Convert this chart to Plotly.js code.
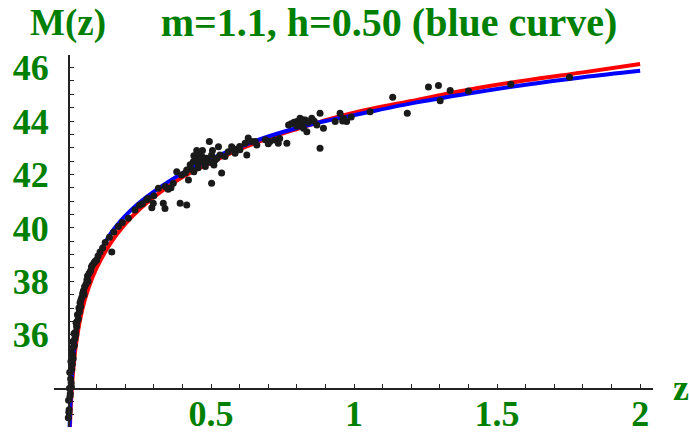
<!DOCTYPE html>
<html>
<head>
<meta charset="utf-8">
<script src="https://cdn.plot.ly/plotly-3.0.1.min.js"></script>
<style>html,body{margin:0;padding:0;background:#fff;}#chart{width:689px;height:437px;}</style>
</head>
<body>
<div id="chart"></div>
<script>
// Curves
const curveZ   = [0.005, 0.01, 0.02, 0.03, 0.05, 0.07, 0.1, 0.15, 0.2, 0.25, 0.3, 0.4, 0.5, 0.6, 0.7, 0.8, 0.9, 1.0, 1.2, 1.4, 1.6, 1.8, 2.0];
const redM     = [31.9, 33.4, 34.9, 35.8, 36.95, 37.7, 38.5, 39.45, 40.15, 40.7, 41.15, 41.9, 42.45, 42.95, 43.35, 43.7, 44.03, 44.31, 44.75, 45.17, 45.52, 45.82, 46.13];
const blueM    = [32.3, 33.8, 35.3, 36.2, 37.35, 38.1, 38.85, 39.8, 40.45, 40.95, 41.36, 42.05, 42.58, 43.03, 43.42, 43.74, 44.0, 44.22, 44.66, 45.03, 45.36, 45.64, 45.88];

// Data points (z, M)
const dataZ = [0.001,0.004,0.002,0.008,0.005,0.012,0.009,0.006,0.013,0.010,0.014,0.016,0.012,0.019,0.017,0.024,0.021,0.026,0.030,0.028,0.036,0.033,0.040,0.038,0.042,0.045,0.048,0.051,0.054,0.058,0.063,0.066,0.068,0.074,0.079,0.085,0.091,0.100,0.105,0.112,0.121,0.153,0.130,0.145,0.160,0.176,0.190,0.211,0.234,0.25,0.275,0.293,0.298,0.316,0.333,0.339,0.368,0.392,0.415,0.421,0.502,
 0.380,0.397,0.415,0.427,0.438,0.450,0.462,0.473,0.485,0.494,0.502,0.514,0.526,0.531,0.537,0.549,0.572,0.584,0.601,0.619,0.625,0.630,0.642,0.654,0.706,0.724,0.735,0.765,0.771,0.800,0.811,0.817,0.823,0.835,0.829,0.852,0.881,0.870,0.893,0.881,0.934,0.951,0.963,0.974,1.056,1.135,1.186,1.260,1.295,1.301,1.336,1.400,1.548,1.753,
 0.43,0.44,0.455,0.46,0.47,0.48,0.49,0.45,0.505,0.51,0.52,0.47,0.44,0.455,0.41,0.50,0.56,0.58,0.60,0.66,0.69,0.74,0.78,0.79,0.81,0.80,0.84,0.86,0.82,0.99,0.96,0.70,0.36,0.34,0.30,0.28,0.26,0.35,
 0.003,0.007,0.011,0.015,0.018,0.022,0.027,0.032,0.044,0.056,0.07,0.082,0.095];
const dataM = [32.9,33.2,33.55,33.8,34.0,34.05,34.35,34.6,34.7,35.0,35.2,35.25,35.45,35.55,35.75,35.85,36.05,36.1,36.3,36.45,36.6,36.75,36.85,37.0,37.2,37.3,37.4,37.55,37.65,37.8,37.9,38.05,38.2,38.3,38.4,38.6,38.7,38.8,38.95,39.1,39.25,39.1,39.45,39.65,39.85,40.05,40.2,40.36,40.67,40.85,41.05,40.75,40.92,41.48,40.92,40.73,41.67,40.92,40.86,41.79,41.67,
 42.10,41.98,42.17,42.36,42.48,42.61,42.79,42.48,42.61,43.23,42.73,42.54,43.04,42.73,42.05,42.67,43.04,42.79,42.92,43.17,42.73,43.36,43.23,43.23,43.23,43.29,43.17,43.17,43.85,43.98,44.10,43.85,43.73,43.60,44.04,44.10,44.29,43.85,43.73,42.98,43.98,44.29,44.10,43.98,44.35,44.89,44.29,45.27,45.33,44.76,45.14,45.12,45.38,45.64,
 42.2,42.7,42.4,42.55,42.9,42.3,42.5,42.9,42.9,42.35,42.6,42.65,42.1,42.25,42.05,42.45,42.85,42.95,43.05,43.1,43.3,43.35,43.9,43.95,43.9,43.8,43.95,44.0,44.05,44.15,44.0,43.15,41.5,41.55,41.2,41.1,40.9,41.45,
 33.1,33.7,34.2,34.9,35.1,35.6,36.0,36.5,37.05,37.5,38.0,38.55,38.75];

const xTickVals = [0.5, 1, 1.5, 2];
const xTickText = ['0.5', '1', '1.5', '2'];
const yTickVals = [36, 38, 40, 42, 44, 46];
const yTickText = ['36', '38', '40', '42', '44', '46'];

const GREEN = '#008000';
const FONT = 'Liberation Serif, Times New Roman, serif';
const xRange = [-0.049, 2.045];
const yRange = [32.55, 46.47];

const traces = [
  {x: curveZ, y: redM, mode: 'lines', line: {color: '#ff0000', width: 4, shape: 'spline', smoothing: 1}, hoverinfo: 'skip'},
  {x: curveZ, y: blueM, mode: 'lines', line: {color: '#0000ff', width: 4, shape: 'spline', smoothing: 1}, hoverinfo: 'skip'},
  {x: dataZ, y: dataM, mode: 'markers', marker: {color: '#1a1a1a', size: 7, symbol: 'circle'}, cliponaxis: false}
];

const axisCommon = {
  showgrid: false, zeroline: false, showline: true, linecolor: '#222', linewidth: 1.5,
  ticks: 'inside', ticklen: 4, tickwidth: 1, tickcolor: '#222',
  tickfont: {family: FONT, size: 36, color: GREEN, weight: 'bold'},
  anchor: 'free'
};

const layout = {
  width: 689, height: 437,
  margin: {l: 54, r: 36, t: 55, b: 10, pad: 0},
  paper_bgcolor: '#fff', plot_bgcolor: '#fff',
  showlegend: false,
  title: {text: 'm=1.1, h=0.50 (blue curve)', font: {family: FONT, size: 40, color: GREEN, weight: 'bold'},
          xref: 'container', yref: 'container', x: 389/689, xanchor: 'center', y: 1 - 22/437, yanchor: 'middle'},
  xaxis: Object.assign({}, axisCommon, {
    range: xRange, position: (34 - yRange[0]) / (yRange[1] - yRange[0]),
    tickmode: 'array', tickvals: xTickVals, ticktext: xTickText, ticklabelstandoff: -7,
    minor: {tickmode: 'linear', tick0: 0, dtick: 0.1, ticks: 'inside', ticklen: 4, tickwidth: 1, tickcolor: '#222', showgrid: false}
  }),
  yaxis: Object.assign({}, axisCommon, {
    range: yRange, position: (0 - xRange[0]) / (xRange[1] - xRange[0]),
    tickmode: 'array', tickvals: yTickVals, ticktext: yTickText, ticklabelstandoff: 12,
    minor: {tickmode: 'linear', tick0: 34, dtick: 0.5, ticks: 'inside', ticklen: 4, tickwidth: 1, tickcolor: '#222', showgrid: false}
  }),
  annotations: [
    {text: 'M(z)', xref: 'paper', yref: 'paper', x: (68 - 54) / 599, y: (427 - 23) / 372, xanchor: 'center', yanchor: 'middle', showarrow: false,
     font: {family: FONT, size: 37, color: GREEN, weight: 'bold'}},
    {text: 'z', xref: 'paper', yref: 'paper', x: (681 - 54) / 599, y: (427 - 388) / 372, xanchor: 'center', yanchor: 'middle', showarrow: false,
     font: {family: FONT, size: 36, color: GREEN, weight: 'bold'}}
  ]
};

Plotly.newPlot('chart', traces, layout, {staticPlot: true, displayModeBar: false});
</script>
</body>
</html>
